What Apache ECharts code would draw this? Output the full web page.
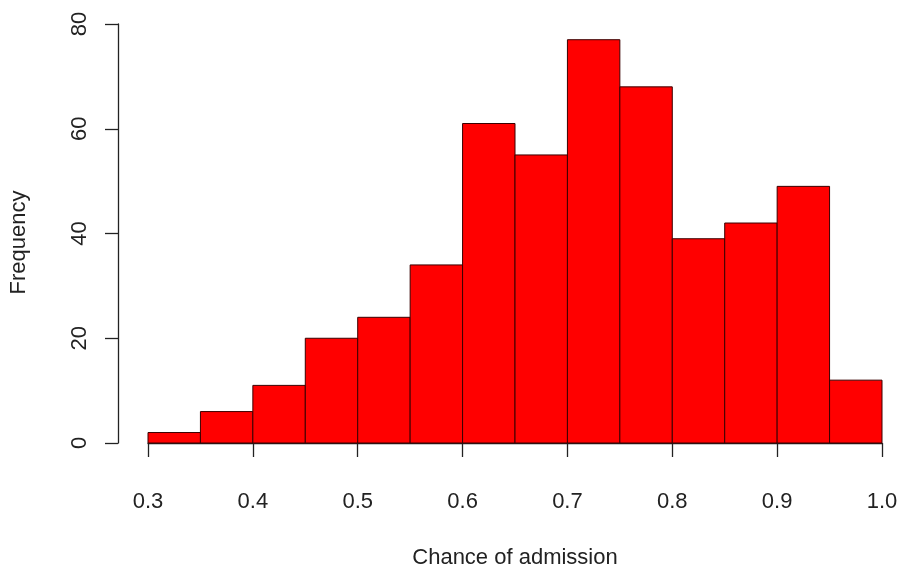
<!DOCTYPE html>
<html>
<head>
<meta charset="utf-8">
<script src="https://cdn.jsdelivr.net/npm/echarts@6/dist/echarts.min.js"></script>
<style>
    html, body { margin: 0; padding: 0; background: #fff; }
    #main { width: 902px; height: 575px; }
</style>
</head>
<body>
<div id="main"></div>
<script>
// histogram bins (left edge) and counts, bin width 0.05
var binStarts = [0.30, 0.35, 0.40, 0.45, 0.50, 0.55, 0.60, 0.65, 0.70, 0.75, 0.80, 0.85, 0.90, 0.95];
var counts = [2, 6, 11, 20, 24, 34, 61, 55, 77, 68, 39, 42, 49, 12];
var binWidth = 0.05;

var data = [];
for (var i = 0; i < binStarts.length; i++) {
    data.push([binStarts[i], binStarts[i] + binWidth, counts[i]]);
}

var myChart = echarts.init(document.getElementById('main'));
var fontFamily = 'Liberation Sans, Arial, sans-serif';
var option = {
    animation: false,
    backgroundColor: '#fff',
    grid: {
        left: 146,
        right: 20,
        top: 24,
        bottom: 132
    },
    xAxis: {
        type: 'value',
        min: 0.3,
        max: 1.0,
        interval: 0.1,
        offset: 16,
        name: 'Chance of admission',
        nameLocation: 'middle',
        nameGap: 88,
        nameTextStyle: { color: '#222', fontSize: 22, fontFamily: fontFamily },
        axisLine: { show: true, lineStyle: { color: '#222', width: 1.3 } },
        axisTick: { show: true, length: 14, lineStyle: { color: '#222', width: 1.3 } },
        axisLabel: {
            color: '#222',
            fontSize: 22,
            fontFamily: fontFamily,
            margin: 32,
            formatter: function (v) { return v.toFixed(1); }
        },
        splitLine: { show: false }
    },
    yAxis: {
        type: 'value',
        min: 0,
        max: 80,
        interval: 20,
        offset: 30,
        name: 'Frequency',
        nameLocation: 'middle',
        nameGap: 88,
        nameTextStyle: { color: '#222', fontSize: 22, fontFamily: fontFamily, padding: [0, 18, 0, 0] },
        axisLine: { show: true, lineStyle: { color: '#222', width: 1.3 } },
        axisTick: { show: true, length: 13, lineStyle: { color: '#222', width: 1.3 } },
        axisLabel: {
            color: '#222',
            fontSize: 22,
            fontFamily: fontFamily,
            rotate: 90,
            margin: 27
        },
        splitLine: { show: false }
    },
    series: [
        {
            type: 'custom',
            data: data,
            encode: { x: [0, 1], y: 2 },
            renderItem: function (params, api) {
                var p0 = api.coord([api.value(0), 0]);
                var p1 = api.coord([api.value(1), api.value(2)]);
                return {
                    type: 'rect',
                    shape: {
                        x: p0[0],
                        y: p1[1],
                        width: p1[0] - p0[0],
                        height: p0[1] - p1[1]
                    },
                    style: {
                        fill: '#ff0000',
                        stroke: '#3a0000',
                        lineWidth: 1
                    }
                };
            }
        }
    ]
};
myChart.setOption(option);
</script>
</body>
</html>
